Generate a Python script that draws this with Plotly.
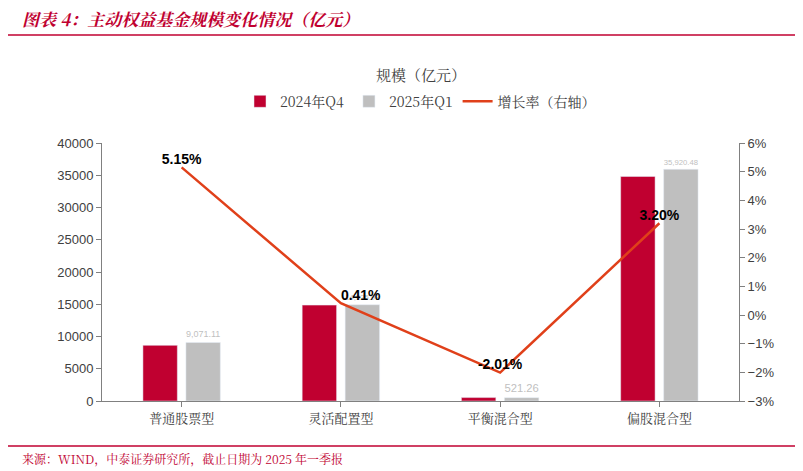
import plotly.graph_objects as go

categories = ["普通股票型", "灵活配置型", "平衡混合型", "偏股混合型"]
q4_2024 = [8627, 14865, 532, 34807]
q1_2025 = [9071.11, 14925.93, 521.26, 35920.48]
growth = [5.15, 0.41, -2.01, 3.20]

RED = "#C00030"
GRAY = "#BFBFBF"
LINE = "#E0401A"
SERIF = "Noto Serif CJK SC, Noto Sans CJK SC, serif"

fig = go.Figure()
fig.add_trace(go.Bar(x=categories, y=q4_2024, name="2024年Q4", marker_color=RED))
fig.add_trace(go.Bar(x=categories, y=q1_2025, name="2025年Q1", marker_color=GRAY,
                     text=[f"{v:,.2f}" for v in q1_2025], textposition="outside",
                     textfont=dict(color="#BFBFBF", size=13, family="Arial")))
fig.add_trace(go.Scatter(x=categories, y=growth, name="增长率（右轴）", yaxis="y2",
                         mode="lines+text", line=dict(color=LINE, width=2.5),
                         text=[f"<b>{v:.2f}%</b>" for v in growth],
                         textposition=["top center", "top right", "top center", "top center"],
                         textfont=dict(color="black", size=14, family="Arial")))

fig.update_layout(
    width=803, height=471,
    paper_bgcolor="white", plot_bgcolor="white",
    margin=dict(l=94, r=72, t=135, b=78),
    barmode="group", bargap=0.46, bargroupgap=0.2,
    font=dict(family=SERIF, size=13, color="#404040"),
    showlegend=True,
    legend=dict(orientation="h", x=0.5, xanchor="center", y=1.16, yanchor="middle",
                font=dict(size=14, color="#404040")),
    xaxis=dict(showline=True, linecolor="#808080", ticks="outside", tickcolor="#808080",
               tickfont=dict(size=13)),
    yaxis=dict(range=[0, 40000], dtick=5000, tickformat="d", showgrid=False, showline=True,
               linecolor="#808080", ticks="outside", tickcolor="#808080",
               tickfont=dict(family="Arial", size=13, color="#404040")),
    yaxis2=dict(range=[-3, 6], dtick=1, overlaying="y", side="right", showgrid=False,
                showline=True, linecolor="#808080", ticks="outside", tickcolor="#808080",
                ticksuffix="%", tickfont=dict(family="Arial", size=13, color="#404040")),
    annotations=[
        dict(text="<b><i>图表 4：主动权益基金规模变化情况（亿元）</i></b>", xref="paper", yref="paper",
             x=-0.128, y=1.484, xanchor="left", yanchor="middle", showarrow=False,
             font=dict(size=17, color=RED, family=SERIF)),
        dict(text="规模（亿元）", xref="paper", yref="paper", x=0.5, y=1.314,
             showarrow=False, font=dict(size=15, color="#404040")),
        dict(text="来源：WIND，中泰证券研究所，截止日期为 2025 年一季报", xref="paper", yref="paper",
             x=-0.128, y=-0.221, xanchor="left", yanchor="middle", showarrow=False,
             font=dict(size=12, color=RED, family=SERIF)),
    ],
    shapes=[
        dict(type="line", xref="paper", yref="paper", x0=-0.15, x1=1.1, y0=1.419, y1=1.419,
             line=dict(color=RED, width=1.5)),
        dict(type="line", xref="paper", yref="paper", x0=-0.15, x1=1.1, y0=-0.174, y1=-0.174,
             line=dict(color=RED, width=1.5)),
    ],
)

fig.write_html("out.html")
